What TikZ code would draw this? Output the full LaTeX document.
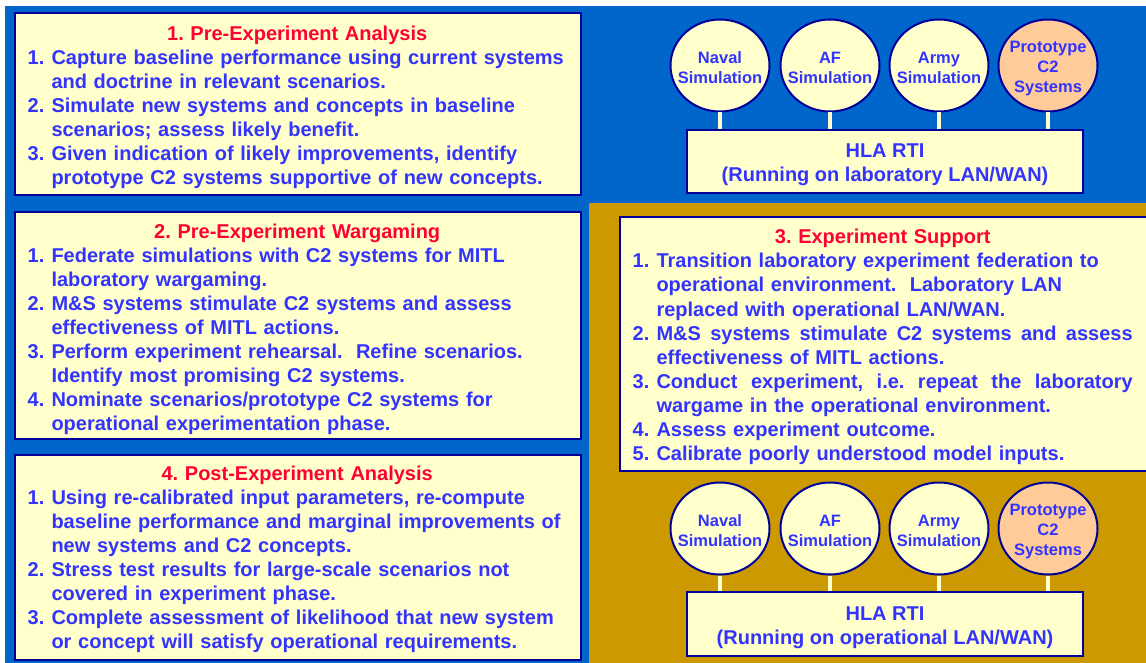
\documentclass[tikz,border=0pt]{standalone}
\usepackage{fontspec}
\setmainfont{Liberation Sans}
\usetikzlibrary{shapes.geometric}

\definecolor{bgblue}{HTML}{0066CC}
\definecolor{bggold}{HTML}{CC9900}
\definecolor{navy}{HTML}{000099}
\definecolor{paleyellow}{HTML}{FFFFCC}
\definecolor{peach}{HTML}{FFCC99}
\definecolor{textblue}{HTML}{3333FF}
\definecolor{titlered}{HTML}{FF0033}

\newcommand{\inum}[1]{\makebox[23.8pt][l]{#1}}
\newcommand{\icont}{\hspace*{23.8pt}}
\newcommand{\firstline}{\rule{0pt}{16pt}}
\newcommand{\jsp}{\hspace{0pt plus 1fil}}

\tikzset{
  panel/.style={draw=navy, line width=2pt, fill=paleyellow, anchor=north west, inner sep=0pt},
  listtext/.style={anchor=north west, inner sep=0pt, align=left, text=textblue,
    font=\bfseries\fontsize{20}{24.1}\selectfont\frenchspacing},
  sim/.style={ellipse, draw=navy, line width=2pt, fill=paleyellow,
    minimum width=99pt, minimum height=92pt, inner sep=0pt},
  proto/.style={sim, fill=peach},
  simtext/.style={align=center, inner sep=0pt, yshift=-2.5pt, text=textblue,
    font=\bfseries\fontsize{16.5}{20}\selectfont},
  rti/.style={draw=navy, line width=2pt, fill=paleyellow, minimum width=396pt,
    minimum height=63.5pt, inner sep=0pt, align=center, text=textblue,
    font=\bfseries\fontsize{20}{24}\selectfont},
  stub/.style={draw=paleyellow, line width=4pt}
}

\begin{document}
\begin{tikzpicture}[x=1pt, y=-1pt]
    \path[use as bounding box] (0,0) rectangle (1146,663);
    \fill[white] (0,0) rectangle (1146,663);

    % Coloured backgrounds
    \fill[bgblue] (4.5,6) rectangle (1146,663);
    \fill[bggold] (589,203) rectangle (1146,663);

    % Panels
    \node[panel, minimum width=566.5pt, minimum height=182.5pt] (preanalysis) at (13.5,12) {};
    \node[panel, minimum width=566.5pt, minimum height=227pt] (wargaming) at (13.5,211) {};
    \node[panel, minimum width=566.5pt, minimum height=205pt] (postanalysis) at (13.5,454) {};
    \node[panel, minimum width=532pt, minimum height=254pt] (support) at (618.5,216) {};

    % Panel texts
    \node[listtext, text width=539pt] (preanalysistext) at (27.5,24) {%
      \firstline\makebox[539pt]{\color{titlered}1. Pre-Experiment Analysis}\\
      \inum{1.}Capture baseline performance using current systems\\
      \icont and doctrine in relevant scenarios.\\
      \inum{2.}Simulate new systems and concepts in baseline\\
      \icont scenarios; assess likely benefit.\\
      \inum{3.}Given indication of likely improvements, identify\\
      \icont prototype C2 systems supportive of new concepts.};

    \node[listtext, text width=539pt] (wargamingtext) at (27.5,222) {%
      \firstline\makebox[539pt]{\color{titlered}2. Pre-Experiment Wargaming}\\
      \inum{1.}Federate simulations with C2 systems for MITL\\
      \icont laboratory wargaming.\\
      \inum{2.}M\&S systems stimulate C2 systems and assess\\
      \icont effectiveness of MITL actions.\\
      \inum{3.}Perform experiment rehearsal.\ \ Refine scenarios.\\
      \icont Identify most promising C2 systems.\\
      \inum{4.}Nominate scenarios/prototype C2 systems for\\
      \icont operational experimentation phase.};

    \node[listtext, text width=500pt] (supporttext) at (632.5,227.5) {%
      \firstline\makebox[500pt]{\color{titlered}3. Experiment Support}\\
      \inum{1.}Transition laboratory experiment federation to\\
      \icont operational environment.\ \ Laboratory LAN\\
      \icont replaced with operational LAN/WAN.\\
      \inum{2.}\hbox to 476.2pt{M\&S\jsp systems\jsp stimulate\jsp C2\jsp systems\jsp and\jsp assess}\\
      \icont effectiveness of MITL actions.\\
      \inum{3.}\hbox to 476.2pt{Conduct\jsp experiment,\jsp i.e.\jsp repeat\jsp the\jsp laboratory}\\
      \icont wargame in the operational environment.\\
      \inum{4.}Assess experiment outcome.\\
      \inum{5.}Calibrate poorly understood model inputs.};

    \node[listtext, text width=539pt] (postanalysistext) at (27.5,464) {%
      \firstline\makebox[539pt]{\color{titlered}4. Post-Experiment Analysis}\\
      \inum{1.}Using re-calibrated input parameters, re-compute\\
      \icont baseline performance and marginal improvements of\\
      \icont new systems and C2 concepts.\\
      \inum{2.}Stress test results for large-scale scenarios not\\
      \icont covered in experiment phase.\\
      \inum{3.}Complete assessment of likelihood that new system\\
      \icont or concept will satisfy operational requirements.};

    % Laboratory federation
    \node[sim] (navalLab) at (720,65.5) {};
    \node[sim] (afLab) at (830,65.5) {};
    \node[sim] (armyLab) at (939,65.5) {};
    \node[proto] (protoLab) at (1048,65.5) {};
    \node[simtext] (navalLabtext) at (navalLab) {Naval\\Simulation};
    \node[simtext] (afLabtext) at (afLab) {AF\\Simulation};
    \node[simtext] (armyLabtext) at (armyLab) {Army\\Simulation};
    \node[simtext, yshift=-1pt] (protoLabtext) at (protoLab) {Prototype\\C2\\Systems};
    \node[rti] (rtiLab) at (885,161.3) {\rule{0pt}{20.5pt}HLA RTI\\(Running on laboratory LAN/WAN)};

    \draw[stub] (navalLab.south) -- (navalLab.south |- rtiLab.north);
    \draw[stub] (afLab.south) -- (afLab.south |- rtiLab.north);
    \draw[stub] (armyLab.south) -- (armyLab.south |- rtiLab.north);
    \draw[stub] (protoLab.south) -- (protoLab.south |- rtiLab.north);

    % Operational federation
    \node[sim] (navalOps) at (720,528.5) {};
    \node[sim] (afOps) at (830,528.5) {};
    \node[sim] (armyOps) at (939,528.5) {};
    \node[proto] (protoOps) at (1048,528.5) {};
    \node[simtext] (navalOpstext) at (navalOps) {Naval\\Simulation};
    \node[simtext] (afOpstext) at (afOps) {AF\\Simulation};
    \node[simtext] (armyOpstext) at (armyOps) {Army\\Simulation};
    \node[simtext, yshift=-1pt] (protoOpstext) at (protoOps) {Prototype\\C2\\Systems};
    \node[rti] (rtiOps) at (885,624) {\rule{0pt}{20.5pt}HLA RTI\\(Running on operational LAN/WAN)};

    \draw[stub] (navalOps.south) -- (navalOps.south |- rtiOps.north);
    \draw[stub] (afOps.south) -- (afOps.south |- rtiOps.north);
    \draw[stub] (armyOps.south) -- (armyOps.south |- rtiOps.north);
    \draw[stub] (protoOps.south) -- (protoOps.south |- rtiOps.north);
\end{tikzpicture}
\end{document}
